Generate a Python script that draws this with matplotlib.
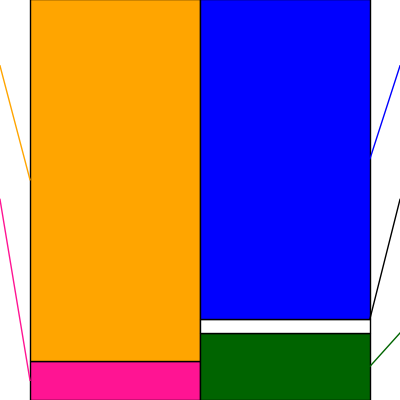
import matplotlib
matplotlib.use("Agg")
import matplotlib.pyplot as plt
import numpy as np

# left column (assets) bottom -> top, right column (liabilities + equity) bottom -> top
left_names = ["fixed", "current"]
left_values = [9.8, 90.2]
left_colors = ["#ff1493", "#ffa500"]

right_names = ["equity", "fixed_liab", "current_liab"]
right_values = [16.8, 3.5, 79.7]
right_colors = ["#006400", "#ffffff", "#0000ff"]
right_line_colors = ["#006400", "#000000", "#0000ff"]

# label anchor heights at the figure edges (percent)
left_label_y = [50.0, 83.3]
right_label_y = [16.7, 50.0, 83.3]

fig = plt.figure(figsize=(4, 4), dpi=100)
ax = fig.add_axes([0, 0, 1, 1])
ax.set_xlim(0, 400)
ax.set_ylim(0, 99.7)
ax.axis("off")

bar_w = 170
left_x, right_x = 30, 200

bottom = 0
for v, c, ly in zip(left_values, left_colors, left_label_y):
    ax.bar(left_x, v, bottom=bottom, width=bar_w, align="edge",
           color=c, edgecolor="black", linewidth=1)
    ax.plot([0, left_x], [ly, bottom + v / 2], color=c, lw=1)
    bottom += v

bottom = 0
for i, (v, c, lc, ly) in enumerate(zip(right_values, right_colors,
                                       right_line_colors, right_label_y)):
    ax.bar(right_x, v, bottom=bottom, width=bar_w, align="edge",
           color=c, edgecolor="black", linewidth=1)
    target = bottom + v if right_names[i] == "fixed_liab" else bottom + v / 2
    ax.plot([right_x + bar_w, 400], [target, ly], color=lc, lw=1)
    bottom += v

fig.savefig("out.png", dpi=100)
